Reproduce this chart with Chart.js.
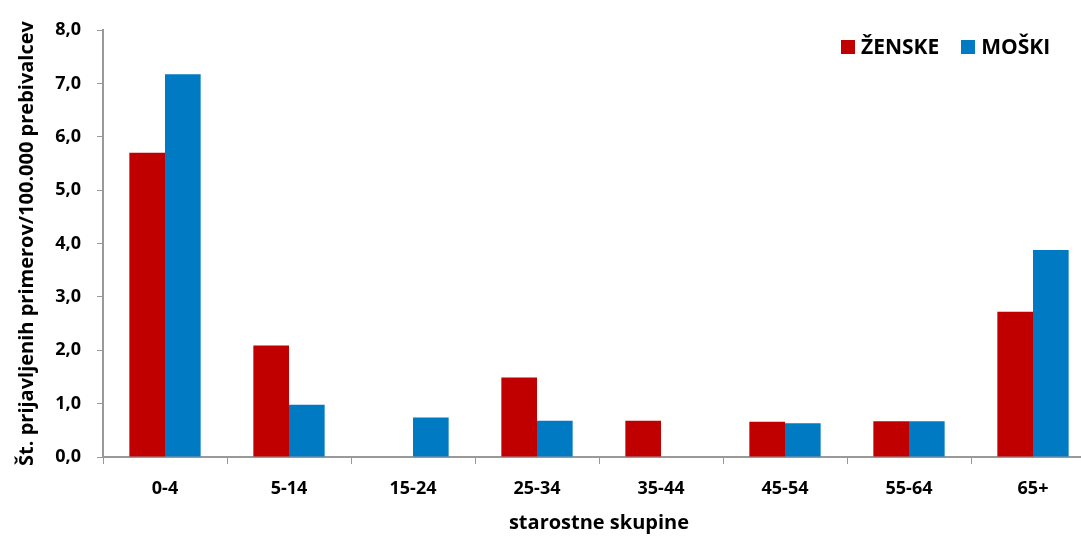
<!DOCTYPE html>
<html>
<head>
  <meta charset="utf-8">
  <title>Primeri po starostnih skupinah</title>
  <script src="https://cdn.jsdelivr.net/npm/chart.js@4.4.0/dist/chart.umd.min.js"></script>
  <style>
    html, body { margin: 0; padding: 0; background: #fff; overflow: hidden; }
    body { font-family: "Open Sans", sans-serif; }
    #ctn { position: relative; width: 1095px; height: 537px; }
    #legend { position: absolute; left: 841px; top: 32px; font-weight: bold; font-size: 21px; color: #000; white-space: nowrap; }
    #legend span.box { display: inline-block; width: 14px; height: 14px; vertical-align: 0px; margin-right: 6px; }
    #legend span.item { margin-right: 22px; }
  </style>
</head>
<body>
  <div id="ctn">
    <canvas id="chartEl"></canvas>
    <div id="legend"></div>
  </div>

  <script>
    const categories = ["0-4", "5-14", "15-24", "25-34", "35-44", "45-54", "55-64", "65+"];
    const zenske = [5.70, 2.09, 0, 1.49, 0.68, 0.66, 0.67, 2.72];
    const moski  = [7.17, 0.98, 0.74, 0.68, 0, 0.63, 0.67, 3.88];
    const seriesNames = ["ŽENSKE", "MOŠKI"];
    const seriesColors = ["#C00000", "#007AC2"];

    const axisColor = "#999999";
    const fontFamily = "'Open Sans', sans-serif";

    legend.innerHTML = seriesNames.map((n, i) =>
      `<span class="item"><span class="box" style="background:${seriesColors[i]}"></span>${n}</span>`).join("");

    new Chart(chartEl, {
      type: 'bar',
      data: {
        labels: categories,
        datasets: [
          { label: seriesNames[0], data: zenske, backgroundColor: seriesColors[0] },
          { label: seriesNames[1], data: moski, backgroundColor: seriesColors[1] },
        ],
      },
      options: {
        responsive: true,
        maintainAspectRatio: false,
        animation: false,
        layout: { padding: { top: 30, right: 0, left: 0, bottom: 0 } },
        datasets: { bar: { barPercentage: 1, categoryPercentage: 0.575 } },
        scales: {
          x: {
            grid: { drawOnChartArea: false, color: axisColor, tickLength: 7, offset: true },
            border: { color: axisColor, width: 2 },
            ticks: { color: "#000", padding: 14, font: { family: fontFamily, size: 18, weight: 'bold' } },
            title: { display: true, text: "starostne skupine", color: "#000", padding: { top: 2, bottom: 2 },
                     font: { family: fontFamily, size: 20, weight: 'bold' } },
            afterFit: (scale) => { scale.height = 80; },
          },
          y: {
            min: 0,
            max: 8,
            grid: { drawOnChartArea: false, color: axisColor, tickLength: 6 },
            border: { color: axisColor, width: 2 },
            ticks: {
              stepSize: 1,
              color: "#000",
              padding: 16,
              font: { family: fontFamily, size: 18, weight: 'bold' },
              callback: (v) => v.toFixed(1).replace(".", ","),
            },
            title: { display: true, text: "Št. prijavljenih primerov/100.000 prebivalcev", color: "#000",
                     padding: { top: 15, bottom: 0 },
                     font: { family: fontFamily, size: 20, weight: 'bold' } },
            afterFit: (scale) => { scale.width = 103; },
          },
        },
        plugins: {
          legend: { display: false },
          tooltip: { enabled: false },
        },
      },
    });
  </script>
</body>
</html>
